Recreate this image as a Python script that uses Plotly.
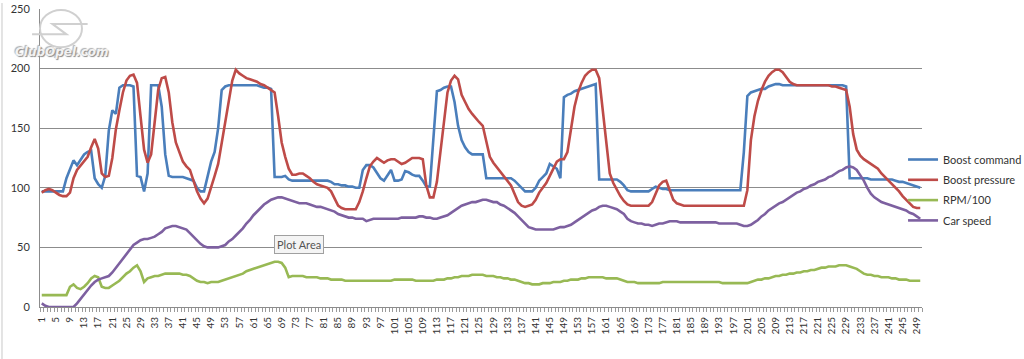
import plotly.graph_objects as go

x_index = list(range(1, 251))
tick_labels = [str(v) for v in range(1, 251, 4)]

boost_command = [
    97, 97, 97, 97, 97, 97, 97, 108, 116, 123,
    119, 124, 128, 130, 131, 108, 103, 100, 110, 148,
    165, 162, 184, 186, 186, 186, 185, 110, 109, 97,
    112, 186, 186, 186, 168, 128, 110, 109, 109, 109,
    109, 108, 107, 106, 100, 97, 97, 110, 122, 130,
    150, 182, 185, 186, 186, 186, 186, 186, 186, 186,
    186, 186, 185, 184, 184, 183, 109, 109, 109, 110,
    107, 106, 106, 106, 106, 106, 106, 106, 106, 106,
    106, 106, 105, 103, 103, 102, 102, 101, 101, 100,
    100, 115, 119, 119, 117, 112, 108, 106, 110, 115,
    106, 106, 107, 114, 113, 111, 110, 110, 106, 101,
    101, 140, 181, 182, 184, 185, 185, 172, 152, 140,
    134, 130, 128, 128, 128, 128, 108, 108, 108, 108,
    108, 108, 108, 108, 106, 103, 100, 97, 97, 97,
    100, 106, 109, 112, 120, 118, 116, 108, 176, 178,
    179, 181, 182, 183, 184, 185, 186, 187, 107, 107,
    107, 107, 107, 107, 105, 102, 98, 97, 97, 97,
    97, 97, 97, 99, 101, 100, 99, 99, 98, 98,
    98, 98, 98, 98, 98, 98, 98, 98, 98, 98,
    98, 98, 98, 98, 98, 98, 98, 98, 98, 130,
    177, 180, 181, 182, 183, 183, 185, 186, 187, 187,
    186, 186, 186, 186, 186, 186, 186, 186, 186, 186,
    186, 186, 186, 186, 186, 186, 186, 186, 185, 108,
    108, 108, 108, 108, 108, 107, 107, 107, 107, 107,
    107, 107, 106, 105, 105, 104, 103, 102, 101, 100,
]

boost_pressure = [
    96, 98, 99, 98, 96, 94, 93, 93, 96, 108,
    115, 119, 122, 126, 134, 141, 133, 112, 109, 110,
    125, 149, 165, 180, 190, 194, 195, 188, 160, 132,
    121, 128, 155, 182, 192, 193, 180, 155, 138, 130,
    122, 118, 115, 106, 97, 91, 87, 91, 100, 110,
    120, 138, 155, 175, 190, 199, 196, 194, 192, 191,
    190, 189, 187, 186, 184, 182, 180, 160, 138, 126,
    116, 111, 111, 112, 112, 110, 108, 105, 103, 102,
    101, 100, 97, 91, 85, 83, 82, 82, 82, 82,
    88, 97, 108, 118, 122, 125, 123, 121, 123, 124,
    124, 122, 120, 121, 123, 125, 125, 125, 124, 102,
    92, 92, 105, 130, 160, 180, 190, 194, 191, 178,
    172, 166, 162, 158, 155, 152, 138, 126, 121, 117,
    114, 110, 106, 102, 95, 88, 85, 84, 85, 86,
    90, 96, 100, 104, 110, 116, 122, 124, 124, 130,
    150, 168, 180, 188, 194, 197, 199, 199, 192, 165,
    135, 112, 104, 98, 93, 89, 86, 85, 85, 85,
    85, 85, 85, 88, 95, 102, 105, 106, 98, 90,
    87, 86, 85, 85, 85, 85, 85, 85, 85, 85,
    85, 85, 85, 85, 85, 85, 85, 85, 85, 85,
    98, 140, 160, 173, 182, 189, 194, 197, 199, 199,
    197, 193, 189, 187, 186, 186, 186, 186, 186, 186,
    186, 186, 186, 186, 185, 185, 184, 183, 182, 168,
    145, 132, 127, 124, 122, 120, 118, 116, 112, 109,
    106, 103, 100, 97, 93, 90, 87, 84, 83, 83,
]

rpm_100 = [
    10, 10, 10, 10, 10, 10, 10, 10, 17, 19,
    16, 15, 17, 20, 24, 26, 25, 17, 16, 16,
    18, 20, 22, 25, 28, 30, 33, 35, 30, 21,
    24, 25, 26, 26, 27, 28, 28, 28, 28, 28,
    27, 27, 26, 24, 22, 21, 21, 20, 21, 21,
    21, 22, 23, 24, 25, 26, 27, 28, 30, 31,
    32, 33, 34, 35, 36, 37, 38, 38, 37, 33,
    25, 26, 26, 26, 26, 25, 25, 25, 25, 24,
    24, 24, 23, 23, 23, 23, 22, 22, 22, 22,
    22, 22, 22, 22, 22, 22, 22, 22, 22, 22,
    23, 23, 23, 23, 23, 23, 22, 22, 22, 22,
    22, 22, 23, 23, 23, 24, 24, 25, 25, 26,
    26, 26, 27, 27, 27, 27, 26, 26, 26, 25,
    25, 24, 24, 23, 23, 22, 21, 20, 20, 19,
    19, 19, 20, 20, 20, 21, 21, 21, 22, 22,
    23, 23, 23, 24, 24, 25, 25, 25, 25, 25,
    24, 24, 24, 24, 23, 22, 21, 21, 21, 20,
    20, 20, 20, 20, 20, 20, 21, 21, 21, 21,
    21, 21, 21, 21, 21, 21, 21, 21, 21, 21,
    21, 21, 21, 20, 20, 20, 20, 20, 20, 20,
    20, 21, 22, 23, 23, 24, 24, 25, 26, 26,
    27, 27, 28, 28, 29, 29, 30, 30, 31, 31,
    32, 33, 33, 34, 34, 34, 35, 35, 35, 34,
    33, 32, 30, 28, 27, 27, 26, 26, 25, 25,
    25, 24, 24, 23, 23, 23, 22, 22, 22, 22,
]

car_speed = [
    3, 1, 0, 0, 0, 0, 0, 0, 0, 0,
    3, 7, 11, 15, 18, 21, 23, 24, 25, 26,
    29, 33, 37, 41, 45, 49, 52, 54, 56, 57,
    57, 58, 59, 61, 63, 66, 67, 68, 68, 67,
    66, 65, 62, 59, 56, 53, 51, 50, 50, 50,
    50, 51, 52, 55, 57, 60, 63, 66, 70, 73,
    77, 80, 83, 86, 88, 90, 91, 92, 92, 91,
    90, 89, 88, 87, 87, 87, 86, 85, 84, 84,
    83, 82, 81, 80, 78, 77, 76, 75, 75, 74,
    74, 74, 72, 73, 74, 74, 74, 74, 74, 74,
    74, 74, 75, 75, 75, 75, 75, 76, 76, 75,
    75, 74, 74, 75, 76, 77, 79, 81, 83, 85,
    86, 87, 88, 88, 89, 90, 90, 89, 88, 88,
    86, 85, 83, 81, 79, 76, 73, 70, 67, 66,
    65, 65, 65, 65, 65, 65, 66, 67, 67, 68,
    69, 71, 73, 75, 77, 79, 81, 82, 84, 85,
    85, 84, 83, 82, 80, 78, 74, 72, 71, 70,
    70, 69, 69, 68, 69, 70, 70, 71, 72, 72,
    72, 71, 71, 71, 71, 71, 71, 71, 71, 71,
    71, 71, 70, 70, 70, 70, 70, 70, 69, 68,
    68, 69, 71, 73, 76, 78, 81, 83, 85, 87,
    88, 90, 92, 94, 96, 97, 99, 100, 102, 103,
    105, 106, 107, 109, 110, 112, 114, 115, 117, 118,
    117, 115, 111, 106, 100, 95, 92, 90, 88, 87,
    86, 85, 84, 83, 82, 81, 79, 78, 76, 74,
]

series = [
    ("Boost command", boost_command, "#4A7EBB"),
    ("Boost pressure", boost_pressure, "#BE4B48"),
    ("RPM/100", rpm_100, "#98B954"),
    ("Car speed", car_speed, "#7D60A0"),
]

FONT = "Lato, 'Open Sans', sans-serif"

fig = go.Figure()
for name, vals, color in series:
    fig.add_trace(go.Scatter(
        x=x_index, y=vals, name=name, mode="lines", legendgroup=name,
        line=dict(color=color, width=2.6),
    ))

fig.update_layout(
    width=1024, height=359,
    margin=dict(l=40, r=102, t=9, b=52, autoexpand=False),
    paper_bgcolor="white", plot_bgcolor="white",
    font=dict(family=FONT, size=11, color="#333333"),
    showlegend=True,
    legend=dict(
        x=0.9785, xanchor="left", y=0.5436, yanchor="top",
        font=dict(family=FONT, size=11, color="#333333"),
        bgcolor="rgba(0,0,0,0)", traceorder="grouped", tracegroupgap=1.3,
    ),
    xaxis=dict(
        range=[0.5, 250.5], tickmode="array", automargin=False,
        tickvals=list(range(1, 251, 4)), ticktext=tick_labels,
        tickangle=-90, tickfont=dict(size=10, color="#333333"),
        showgrid=False, zeroline=False,
        showline=True, linecolor="#8c8c8c", linewidth=1,
        ticks="", ticklabelstandoff=5,
        minor=dict(ticks="outside", tick0=0.5, dtick=1, ticklen=4,
                   tickcolor="#9a9a9a", tickwidth=1, showgrid=False),
    ),
    yaxis=dict(
        range=[0, 250], dtick=50, tick0=0, automargin=False,
        showgrid=True, gridcolor="#8c8c8c", gridwidth=1,
        zeroline=False, showline=True, linecolor="#8c8c8c", linewidth=1,
        ticks="", ticklabelstandoff=7,
        tickfont=dict(size=11, color="#333333"),
    ),
)

# "Plot Area" tooltip box
fig.add_annotation(
    x=0.2937, y=0.2097, xref="paper", yref="paper", xanchor="center", yanchor="middle",
    text="Plot Area", showarrow=False,
    font=dict(family=FONT, size=11, color="#555555"),
    bgcolor="#f4f4f4", bordercolor="#a0a0a0", borderwidth=1, borderpad=2,
)

# ClubOpel watermark
fig.add_shape(type="circle", xref="paper", yref="paper",
              x0=0.0, x1=0.0476, y0=0.872, y1=0.997,
              line=dict(color="#d0d0d0", width=2), layer="above")
fig.add_shape(type="path", xref="paper", yref="paper",
              path="M -0.009,0.915 L 0.03,0.915 L 0.014,0.95 L 0.054,0.95",
              line=dict(color="#d0d0d0", width=2), layer="above")
fig.add_annotation(
    x=0.0244, y=0.856, xref="paper", yref="paper", xanchor="center", yanchor="middle",
    text="<b><i>ClubOpel.com</i></b>", showarrow=False,
    font=dict(family="'DejaVu Sans', sans-serif", size=12, color="#f2f2f2",
              shadow="1px 1px 1px #8a8a8a, -1px -1px 1px #b0b0b0"),
)

# chart frame edge at the far left
fig.add_shape(type="line", xref="paper", yref="paper",
              x0=-0.0431, x1=-0.0431, y0=-0.2, y1=1.02,
              line=dict(color="#c8c8c8", width=1))

fig.write_html("out.html", config={"displayModeBar": False},
               post_script="document.body.style.margin='0';")
